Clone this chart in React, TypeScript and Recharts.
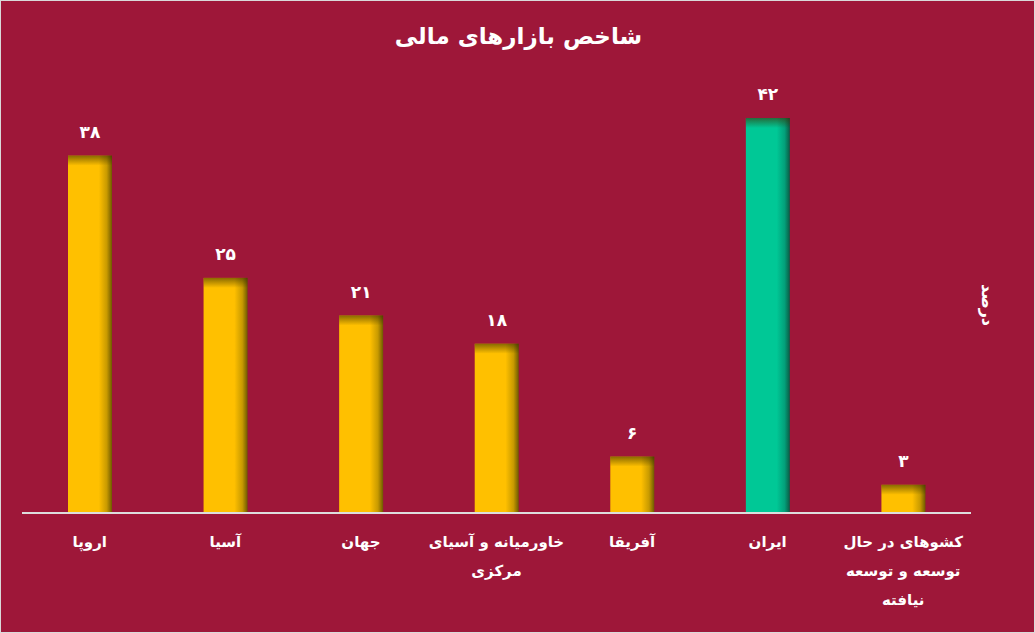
import React from 'react';
import { BarChart, Bar, XAxis, YAxis, LabelList, Cell } from 'recharts';

const regions = [
    'اروپا',
    'آسیا',
    'جهان',
    'خاورمیانه و آسیای\nمرکزی',
    'آفریقا',
    'ایران',
    'کشوهای در حال\nتوسعه و توسعه\nنیافته',
];
const shares = [38, 25, 21, 18, 6, 42, 3];
const highlight = 'ایران';

const data = regions.map((name, i) => ({ name, value: shares[i] }));

const BG = '#9E1739';
const FONT = '"DejaVu Sans", "Noto Sans", sans-serif';

const toFa = (n: number | string) =>
    String(n).replace(/[0-9]/g, (d) => '۰۱۲۳۴۵۶۷۸۹'[Number(d)]);

const ShadedBar = (props: any) => {
    const { x, y, width, height, payload } = props;
    if (!height || height <= 0) return null;
    const green = payload.name === highlight;
    const side = green ? 'url(#sideGreen)' : 'url(#sideYellow)';
    const topH = Math.min(10, height);
    return (
        <g>
            <rect x={x} y={y} width={width} height={height} fill={side} />
            <rect x={x} y={y} width={width} height={topH} fill="url(#topShade)" />
        </g>
    );
};

const RegionTick = (props: any) => {
    const { x, y, payload } = props;
    const lines: string[] = String(payload.value).split('\n');
    return (
        <g transform={`translate(${x},${y})`}>
            {lines.map((line, i) => (
                <text
                    key={i}
                    x={0}
                    y={26 + i * 29}
                    textAnchor="middle"
                    fill="#ffffff"
                    fontSize={15}
                    fontWeight="bold"
                    fontFamily={FONT}
                    direction="rtl"
                >
                    {line}
                </text>
            ))}
        </g>
    );
};

const App: React.FC = () => {
    return (
        <div
            style={{
                position: 'fixed',
                left: 0,
                top: 0,
                width: 1035,
                height: 633,
                background: BG,
                boxSizing: 'border-box',
                border: '1px solid #d9d9d9',
                overflow: 'hidden',
            }}
        >
            <div
                style={{
                    position: 'absolute',
                    top: 22,
                    left: 0,
                    width: 1035,
                    textAlign: 'center',
                    color: '#fff',
                    fontFamily: FONT,
                    fontWeight: 'bold',
                    fontSize: 23,
                    direction: 'rtl',
                }}
            >
                شاخص بازارهای مالی
            </div>
            <div
                style={{
                    position: 'absolute',
                    left: 986,
                    top: 304,
                    transform: 'translate(-50%, -50%) rotate(90deg)',
                    color: '#fff',
                    fontFamily: FONT,
                    fontSize: 16,
                    fontWeight: 'bold',
                    whiteSpace: 'nowrap',
                    direction: 'rtl',
                }}
            >
                درصد
            </div>
            <BarChart
                width={1033}
                height={631}
                data={data}
                margin={{ top: 117, right: 63, left: 21, bottom: 0 }}
                style={{ position: 'absolute', left: 0, top: 0 }}
            >
                <defs>
                    <linearGradient id="sideYellow" x1="0" y1="0" x2="1" y2="0">
                        <stop offset="0%" stopColor="#FFC000" />
                        <stop offset="70%" stopColor="#FFC000" />
                        <stop offset="88%" stopColor="#C89A00" />
                        <stop offset="100%" stopColor="#6E5A00" />
                    </linearGradient>
                    <linearGradient id="sideGreen" x1="0" y1="0" x2="1" y2="0">
                        <stop offset="0%" stopColor="#00C896" />
                        <stop offset="70%" stopColor="#00C896" />
                        <stop offset="88%" stopColor="#03A07A" />
                        <stop offset="100%" stopColor="#0B5A45" />
                    </linearGradient>
                    <linearGradient id="topShade" x1="0" y1="0" x2="0" y2="1">
                        <stop offset="0%" stopColor="#3a3000" stopOpacity={0.6} />
                        <stop offset="100%" stopColor="#3a3000" stopOpacity={0} />
                    </linearGradient>
                </defs>
                <XAxis
                    dataKey="name"
                    height={119}
                    interval={0}
                    tick={<RegionTick />}
                    tickLine={false}
                    axisLine={{ stroke: '#dddddd', strokeWidth: 2 }}
                />
                <YAxis hide domain={[0, 42]} />
                <Bar dataKey="value" barSize={44} shape={<ShadedBar />} isAnimationActive={false}>
                    {data.map((d) => (
                        <Cell key={d.name} />
                    ))}
                    <LabelList
                        dataKey="value"
                        position="top"
                        offset={18}
                        formatter={(v: any) => toFa(v)}
                        fill="#ffffff"
                        fontSize={17}
                        fontWeight="bold"
                        fontFamily={FONT}
                    />
                </Bar>
            </BarChart>
        </div>
    );
};

export default App;
